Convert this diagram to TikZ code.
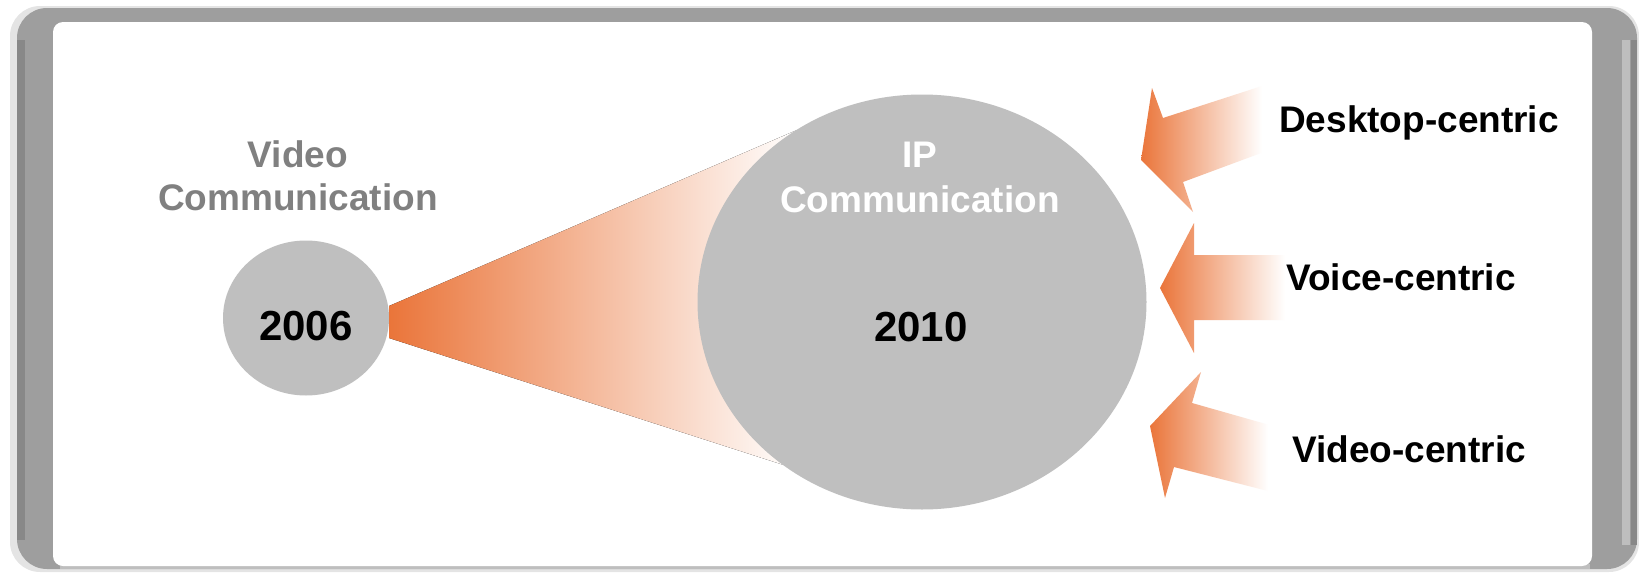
\documentclass[tikz,border=0pt]{standalone}
\usepackage{fontspec}
\setmainfont{Liberation Sans}
\usetikzlibrary{shapes.geometric}
\definecolor{orng}{RGB}{234,117,58}
\definecolor{circ}{RGB}{191,191,191}
\definecolor{frm}{RGB}{158,158,158}
\definecolor{frmdark}{RGB}{136,136,136}
\definecolor{frmlight}{RGB}{190,190,190}
\definecolor{frmpale}{RGB}{228,228,228}
\definecolor{lbl}{RGB}{128,128,128}
\tikzset{
  bubble/.style={ellipse, fill=circ, inner sep=0pt, draw=none},
  lab/.style={font=\bfseries\fontsize{37}{44}\selectfont, inner sep=0pt},
  year/.style={font=\bfseries\fontsize{42}{50}\selectfont, inner sep=0pt, anchor=base},
  fade/.style={left color=orng, right color=white, draw=none},
}
\begin{document}
\begin{tikzpicture}[x=1pt,y=-1pt]
\useasboundingbox (0,0) rectangle (1639,573);
% frame
\fill[frmpale, rounded corners=30pt] (10,6) rectangle (1639,572);
\fill[frm, rounded corners=30pt] (17,8) rectangle (1637,569);
\fill[frmdark] (17,40) rectangle (25,540);
\fill[frmdark] (1631,40) rectangle (1637,545);
\fill[frmlight] (1622,40) rectangle (1630,545);
\fill[frmlight] (60,564) rectangle (1590,569);
\fill[white, rounded corners=10pt] (53,22) rectangle (1592,566);
% cone
\coordinate (ct1) at (389,306);
\coordinate (ct2) at (797,130);
\coordinate (cb2) at (790,467);
\coordinate (cb1) at (389,338);
\fill[fade] (ct1) -- (ct2) -- (cb2) -- (cb1) -- cycle;
% circles
\node[bubble, minimum width=166pt, minimum height=155pt] (small) at (306,318) {};
\node[bubble, minimum width=449pt, minimum height=415pt] (big) at (922,302) {};
% texts
\node[lab, text=lbl, anchor=base] (v1) at (298,167) {Video};
\node[lab, text=lbl, anchor=base] (v2) at (298,210) {Communication};
\node[year] (y1) at (306,340) {2006};
\node[lab, text=white, anchor=base] (i1) at (920,167) {IP};
\node[lab, text=white, anchor=base] (i2) at (920,212) {Communication};
\node[year] (y2) at (921,341) {2010};
% arrows (fading to white before their tails)
\begin{scope}
\clip (1141,160) -- (1152,88) -- (1163,118) -- (1262,86) -- (1280,146) -- (1183,182) -- (1193,212) -- cycle;
\shade[fade] (1141,80) rectangle (1262,220);
\end{scope}
\begin{scope}
\clip (1160,288) -- (1194,223) -- (1194,255) -- (1295,255) -- (1295,320) -- (1194,320) -- (1194,353) -- cycle;
\shade[fade] (1160,220) rectangle (1285,356);
\end{scope}
\begin{scope}
\clip (1150,426) -- (1201,372) -- (1192,403) -- (1280,428) -- (1268,491) -- (1174,467) -- (1165,498) -- cycle;
\shade[fade] (1150,370) rectangle (1268,500);
\end{scope}
% labels
\node[lab, anchor=base west] (d) at (1279,132) {Desktop-centric};
\node[lab, anchor=base west] (vc) at (1286,290) {Voice-centric};
\node[lab, anchor=base west] (vd) at (1292,462) {Video-centric};
\end{tikzpicture}
\end{document}
